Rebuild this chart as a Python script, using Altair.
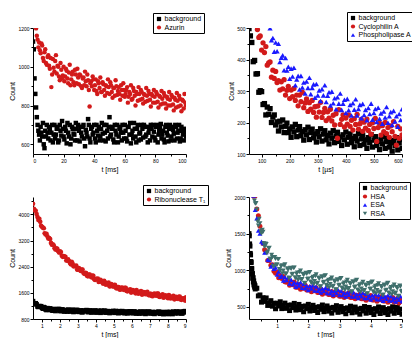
import altair as alt
import pandas as pd

# ---------------- Panel 1 (t [ms], 0-100) ----------------
p1_names = ["background", "Azurin"]
p1_bg_a = [1130, 940, 790, 700, 650, 690, 640, 600, 670, 700,
           630, 680, 660, 610, 700, 650, 690, 620, 670, 720,
           640, 690, 605, 660, 700, 630, 680, 650, 710, 620,
           670, 690, 640, 700, 590, 660, 730, 630, 680, 650,
           700, 610, 670, 690, 640, 710, 620, 660, 700, 630,
           740, 650, 690, 610, 670, 700, 640, 680, 620, 660,
           700, 630, 690, 650, 605, 670, 710, 640, 680, 620,
           660, 700, 635, 690, 650, 610, 680, 700, 640, 665,
           620, 700, 650, 690, 630, 670, 610, 700, 645, 680,
           620, 690, 655, 700, 630, 670, 615, 690, 650, 680,
           640]
p1_bg_b = [1090, 860, 740, 670, 620, 660, 710, 580, 640, 660,
           690, 620, 700, 650, 630, 680, 610, 700, 645, 680,
           625, 670, 710, 640, 600, 690, 655, 620, 680, 700,
           615, 660, 690, 630, 675, 640, 700, 610, 690, 660,
           630, 700, 645, 620, 680, 655, 700, 615, 670, 690,
           640, 680, 625, 700, 650, 610, 690, 660, 700, 630,
           670, 615, 690, 710, 650, 630, 680, 610, 700, 655,
           625, 680, 700, 640, 690, 660, 620, 680, 700, 635,
           690, 610, 670, 705, 650, 625, 690, 660, 615, 700,
           640, 675, 620, 690, 660, 700, 630, 670, 620, 660]
p1_az_a = [1280, 1235, 1198, 1140, 1125, 1070, 1110, 1030, 1090, 1010,
           1060, 990, 895, 1040, 975, 1060, 1005, 950, 1020, 940,
           1000, 950, 980, 915, 1010, 935, 975, 905, 960, 990,
           910, 955, 890, 945, 975, 900, 930, 795, 925, 950,
           880, 935, 860, 915, 945, 870, 910, 850, 900, 935,
           860, 905, 840, 890, 930, 855, 895, 830, 880, 915,
           845, 880, 815, 870, 905, 835, 875, 800, 860, 895,
           830, 870, 810, 855, 890, 825, 860, 795, 850, 880,
           815, 860, 790, 845, 875, 810, 850, 785, 835, 870,
           800, 845, 775, 830, 865, 795, 835, 770, 825, 860,
           800]
p1_az_b = [1260, 1215, 1160, 1100, 1085, 1120, 1045, 1075, 1020, 1050,
           1005, 1045, 960, 995, 1030, 965, 1000, 930, 985, 955,
           925, 990, 940, 970, 905, 960, 920, 985, 915, 945,
           960, 900, 940, 905, 925, 960, 880, 915, 900, 935,
           905, 875, 925, 890, 870, 920, 880, 905, 865, 895,
           920, 870, 890, 850, 900, 875, 860, 905, 850, 880,
           860, 895, 845, 860, 830, 890, 850, 870, 825, 860,
           880, 835, 860, 820, 850, 875, 830, 860, 815, 845,
           870, 820, 850, 805, 835, 865, 810, 845, 800, 830,
           855, 805, 840, 790, 825, 850, 800, 830, 785, 815]

# ---------------- Panel 2 (t [us], 55-600) ----------------
p2_names = ["background", "Cyclophilin A", "Phospholipase A"]
p2_bg = [498, 475, 454, 393, 397, 354, 355, 296, 301, 298,
         257, 260, 224, 249, 226, 244, 200, 217, 224, 192,
         202, 173, 204, 186, 208, 168, 188, 198, 168, 180,
         153, 186, 170, 194, 155, 176, 187, 158, 171, 144,
         177, 161, 185, 146, 168, 179, 151, 164, 138, 171,
         155, 180, 141, 163, 174, 145, 159, 132, 166, 150,
         174, 136, 157, 169, 140, 154, 127, 161, 145, 170,
         131, 153, 164, 136, 149, 123, 156, 141, 165, 127,
         148, 160, 131, 145, 118, 152, 136, 161, 122, 144,
         155, 127, 140, 114, 147, 132, 156, 118, 139, 151,
         122, 136, 109, 143, 127, 152, 113, 135, 146, 118]
p2_cyc = [495, 470, 475, 430, 453, 422, 441, 382, 389, 392,
          344, 366, 340, 362, 327, 333, 303, 329, 307, 336,
          287, 302, 315, 276, 303, 282, 308, 270, 287, 253,
          287, 266, 296, 247, 262, 275, 235, 263, 242, 270,
          232, 250, 217, 252, 233, 264, 216, 232, 245, 206,
          234, 214, 242, 205, 223, 192, 228, 150, 241, 194,
          210, 224, 186, 214, 195, 224, 188, 207, 176, 212,
          194, 226, 179, 196, 210, 172, 201, 182, 211, 175,
          194, 163, 199, 181, 213, 140, 184, 198, 160, 190,
          171, 200, 165, 184, 153, 189, 171, 203, 156, 128,
          188, 150, 180, 161]
p2_pla = [499, 461, 468, 425, 454, 426, 450, 392, 406, 413,
          366, 405, 365, 377, 339, 371, 346, 374, 318, 337,
          348, 305, 348, 311, 327, 292, 330, 310, 342, 290,
          310, 321, 279, 322, 286, 302, 268, 306, 286, 318,
          265, 285, 296, 254, 298, 261, 277, 242, 280, 260,
          292, 240, 260, 272, 230, 275, 239, 256, 222, 261,
          241, 274, 222, 243, 256, 214, 259, 224, 240, 207,
          246, 227, 260, 209, 230, 243, 202, 247, 212, 229,
          196, 235, 216, 249, 199, 220, 233, 192, 237, 203,
          220, 187, 227, 208, 242]

# ---------------- Panel 3 (t [ms], 0.5-9) ----------------
p3_names = ["background", "Ribonuclease T\u2081"]
p3_bg_a = [1345, 1265, 1245, 1170, 1185, 1145, 1162, 1095, 1131, 1083,
           1095, 1056, 1097, 1073, 1104, 1050, 1092, 1049, 1066, 1028,
           1070, 1048, 1081, 1029, 1072, 1030, 1048, 1012, 1056, 1036,
           1068, 1018, 1060, 1018, 1036, 1000, 1044, 1023, 1054, 1003,
           1047, 1000, 1023, 991, 1031, 1010, 1044, 993, 1037, 993,
           1015, 981, 1019, 999, 1035, 985, 1029, 987, 1007, 967,
           1015, 992, 1027, 978, 1021, 980, 999, 963, 1008, 987,
           1020, 968, 1012, 971, 991, 955, 1012, 996, 1025, 975,
           1020, 1008, 1013, 975, 1030, 1005]
p3_bg_b = [1275, 1280, 1185, 1195, 1190, 1116, 1143, 1075, 1112, 1124,
           1063, 1104, 1045, 1086, 1102, 1043, 1086, 1028, 1069, 1086,
           1029, 1072, 1015, 1058, 1076, 1019, 1063, 1006, 1050, 1068,
           1012, 1055, 998, 1042, 1061, 1004, 1048, 991, 1035, 1053,
           997, 1040, 984, 1027, 1046, 990, 1034, 978, 1021, 1040,
           985, 1028, 972, 1016, 1035, 980, 1024, 967, 1006, 1026,
           970, 1013, 957, 1001, 1025, 970, 1014, 957, 999, 1019,
           962, 1005, 949, 993, 1015, 961, 1007, 953, 1003, 1024,
           973, 1021, 970, 1017, 1039]
p3_rib_a = [4320, 4125, 4010, 3825, 3770, 3620, 3575, 3385, 3330, 3270,
            3125, 3080, 2960, 2960, 2870, 2870, 2733, 2721, 2704, 2587,
            2570, 2471, 2492, 2418, 2434, 2305, 2311, 2312, 2213, 2214,
            2125, 2160, 2100, 2130, 2015, 2025, 2036, 1947, 1958, 1879,
            1920, 1870, 1910, 1805, 1825, 1840, 1759, 1778, 1707, 1756,
            1710, 1756, 1657, 1683, 1704, 1625, 1650, 1585, 1640, 1600,
            1650, 1557, 1589, 1616, 1543, 1570, 1507, 1564, 1526, 1578,
            1485, 1517, 1552, 1471, 1498, 1435, 1492, 1458, 1506, 1413,
            1445, 1474, 1398, 1427, 1402, 1460]
p3_rib_b = [4165, 4110, 3915, 3865, 3650, 3593, 3422, 3407, 3258, 3245,
            3070, 3053, 2922, 2945, 2830, 2849, 2702, 2705, 2588, 2621,
            2518, 2549, 2410, 2421, 2312, 2358, 2269, 2310, 2181, 2202,
            2105, 2160, 2075, 2120, 1995, 2023, 1934, 1995, 1916, 1967,
            1850, 1885, 1800, 1865, 1790, 1847, 1736, 1775, 1694, 1763,
            1693, 1754, 1645, 1686, 1607, 1680, 1615, 1680, 1575, 1620,
            1546, 1623, 1560, 1627, 1524, 1571, 1498, 1575, 1512, 1579,
            1476, 1523, 1450, 1527, 1464, 1531, 1428, 1475, 1402, 1479,
            1417, 1486, 1385, 1434, 1363]

# ---------------- Panel 4 (t [ms], 0.1-5) ----------------
p4_names = ["background", "HSA", "ESA", "RSA"]
p4_bg_early = [1500, 1470, 1360, 1330, 1230, 1210, 1120, 1105, 1025, 1020,
               950, 955, 890, 900, 840, 855, 800, 815, 770, 790, 745]
p4_bg = [755, 650, 663, 565, 625, 575, 622, 520, 557, 585,
         510, 550, 475, 550, 512, 570, 477, 520, 552, 480,
         522, 450, 527, 490, 548, 457, 500, 534, 462, 506,
         434, 513, 476, 535, 444, 488, 522, 451, 495, 424,
         503, 467, 526, 435, 479, 513, 442, 486, 415, 494,
         458, 517, 426, 470, 504, 434, 478, 407, 487, 451,
         510, 420, 464, 498, 428, 472, 401, 481, 445, 505,
         414, 458, 493, 422, 467, 396, 476, 441, 500, 410,
         455, 490, 420, 465, 396, 476, 442, 502, 413, 458,
         494, 424, 469, 400]
p4_hsa = [2010, 2015, 1835, 1745, 1600, 1535, 1365, 1280, 1255, 1135,
          1135, 1070, 1077, 985, 958, 975, 897, 930, 887, 915,
          842, 835, 867, 795, 836, 802, 839, 770, 769, 807,
          741, 785, 755, 795, 730, 730, 770, 706, 751, 722,
          762, 698, 698, 739, 674, 720, 691, 733, 669, 671,
          712, 649, 695, 667, 708, 645, 647, 690, 627, 675,
          647, 690, 627, 630, 672, 610, 657, 630, 672, 610,
          612, 655, 592, 640, 612, 655, 593, 596, 639, 577,
          625, 598, 641, 579, 582, 625, 563, 612, 585, 629,
          567, 571, 614, 553, 601, 575]
p4_esa = [2020, 1825, 1710, 1540, 1500, 1390, 1370, 1240, 1248, 1145,
          1138, 1050, 1078, 1020, 1038, 940, 982, 910, 927, 860,
          907, 865, 902, 820, 871, 807, 834, 775, 829, 792,
          836, 760, 815, 755, 785, 730, 785, 751, 796, 722,
          777, 718, 748, 694, 749, 715, 761, 688, 744, 686,
          717, 664, 720, 687, 733, 660, 717, 660, 692, 640,
          697, 665, 712, 640, 697, 640, 672, 620, 677, 645,
          692, 620, 677, 620, 652, 600, 658, 626, 674, 602,
          660, 603, 636, 584, 642, 610, 658, 587, 645, 589,
          622, 571, 629, 598, 646, 575]
p4_rsa_a = [2130, 1910, 1830, 1610, 1640, 1500, 1525, 1320, 1355, 1255,
            1305, 1150, 1178, 1050, 1156, 1075, 1153, 992, 1066, 995,
            1079, 958, 1006, 895, 1018, 950, 1037, 885, 969, 907,
            996, 880, 934, 827, 951, 885, 975, 826, 911, 852,
            942, 828, 883, 779, 904, 840, 931, 782, 868, 809,
            900, 786, 842, 738, 864, 800, 892, 745, 832, 775,
            867, 755, 812, 710, 837, 775, 867, 720, 807, 750,
            842, 730, 787, 685, 812, 750, 843, 696, 785, 728,
            821, 709, 767, 666, 794, 732, 826, 679, 768, 711,
            805, 694, 752, 651, 779, 718]
p4_rsa_b = [1950, 1915, 1665, 1700, 1530, 1550, 1365, 1362, 1232, 1302,
            1157, 1209, 1059, 1178, 1075, 1151, 1015, 1054, 958, 1059,
            948, 1027, 895, 1031, 944, 1031, 903, 952, 865, 974,
            868, 952, 825, 964, 878, 967, 843, 893, 809, 919,
            815, 900, 776, 916, 832, 923, 799, 850, 766, 877,
            773, 859, 735, 876, 792, 883, 761, 813, 731, 843,
            741, 828, 706, 848, 766, 858, 736, 788, 706, 818,
            716, 803, 681, 823, 741, 834, 712, 765, 684, 797,
            695, 783, 661, 805, 723, 816, 695, 748, 667, 780,
            679, 768, 646, 790, 708]


def grid(start, step, n):
    return [round(start + step * i, 4) for i in range(n)]


def frame(parts):
    rows = []
    for name, ts, vs in parts:
        rows += [{"s": name, "t": t, "v": v} for t, v in zip(ts, vs)]
    return pd.DataFrame(rows)


df1 = frame([
    ("background", grid(0, 1, len(p1_bg_a)), p1_bg_a),
    ("background", grid(0.5, 1, len(p1_bg_b)), p1_bg_b),
    ("Azurin", grid(0, 1, len(p1_az_a)), p1_az_a),
    ("Azurin", grid(0.5, 1, len(p1_az_b)), p1_az_b),
])
df2 = frame([
    ("background", grid(55, 5, len(p2_bg)), p2_bg),
    ("Cyclophilin A", grid(85, 5, len(p2_cyc)), p2_cyc),
    ("Phospholipase A", grid(130, 5, len(p2_pla)), p2_pla),
])
df3 = frame([
    ("background", grid(0.5, 0.1, len(p3_bg_a)), p3_bg_a),
    ("background", grid(0.55, 0.1, len(p3_bg_b)), p3_bg_b),
    (p3_names[1], grid(0.5, 0.1, len(p3_rib_a)), p3_rib_a),
    (p3_names[1], grid(0.55, 0.1, len(p3_rib_b)), p3_rib_b),
])
df4 = frame([
    ("background", grid(0.10, 0.01, len(p4_bg_early)), p4_bg_early),
    ("background", grid(0.35, 0.05, len(p4_bg)), p4_bg),
    ("HSA", grid(0.25, 0.05, len(p4_hsa)), p4_hsa),
    ("ESA", grid(0.25, 0.05, len(p4_esa)), p4_esa),
    ("RSA", grid(0.25, 0.05, len(p4_rsa_a)), p4_rsa_a),
    ("RSA", grid(0.275, 0.05, len(p4_rsa_b)), p4_rsa_b),
])

BLACK, RED, BLUE, TEAL = "#000000", "#d21a1a", "#1a1aff", "#3f6f6c"
FONT = "Liberation Sans"


def panel(df, names, colors, shapes, size, xdom, ydom, xticks, yticks,
          xminor, yminor, xtitle, lx, ly, h):
    leg = alt.Legend(title=None, orient="none", legendX=lx, legendY=ly,
                     strokeColor="black", fillColor="white", padding=2.5,
                     labelFontSize=7, labelFont=FONT, labelColor="black",
                     symbolSize=18, rowPadding=0.5, labelOffset=2,
                     symbolStrokeWidth=0, labelLimit=300)
    xs = alt.Scale(domain=xdom, nice=False, zero=False)
    ys = alt.Scale(domain=ydom, nice=False, zero=False)
    pts = alt.Chart(df).mark_point(filled=True, size=size, opacity=1,
                                   strokeWidth=0, clip=True).encode(
        x=alt.X("t:Q", scale=xs,
                axis=alt.Axis(values=xticks, title=xtitle, format="d", orient="bottom")),
        y=alt.Y("v:Q", scale=ys,
                axis=alt.Axis(values=yticks, title="Count", format="d", orient="left")),
        color=alt.Color("s:N", scale=alt.Scale(domain=names, range=colors), legend=leg),
        shape=alt.Shape("s:N", scale=alt.Scale(domain=names, range=shapes), legend=leg),
    )
    minor = alt.Chart(df).mark_point(opacity=0, size=1).encode(
        x=alt.X("t:Q", scale=xs,
                axis=alt.Axis(values=xminor, title=None, labels=False, domain=False,
                              tickSize=2, orient="bottom")),
        y=alt.Y("v:Q", scale=ys,
                axis=alt.Axis(values=yminor, title=None, labels=False, domain=False,
                              tickSize=2, orient="left")),
    )
    return alt.layer(pts, minor).resolve_axis(x="independent", y="independent").properties(
        width=153, height=h)


c1 = panel(df1, p1_names, [BLACK, RED], ["square", "circle"], 20,
           [0, 100], [550, 1200], [0, 20, 40, 60, 80, 100], [600, 800, 1000, 1200],
           [10, 30, 50, 70, 90], [700, 900, 1100],
           "t [ms]", 120, -15, 126)
c2 = panel(df2, p2_names, [BLACK, RED, BLUE], ["square", "circle", "triangle-up"], 28,
           [55, 600], [100, 500], [100, 200, 300, 400, 500, 600], [100, 200, 300, 400, 500],
           [150, 250, 350, 450, 550], [150, 250, 350, 450],
           "t [\u00b5s]", 98, -16, 126)
c3 = panel(df3, p3_names, [BLACK, RED], ["square", "circle"], 22,
           [0.5, 9], [800, 4530], [1, 2, 3, 4, 5, 6, 7, 8, 9], [800, 1600, 2400, 3200, 4000],
           [1.5, 2.5, 3.5, 4.5, 5.5, 6.5, 7.5, 8.5], [1200, 2000, 2800, 3600, 4400],
           "t [ms]", 110, -12, 122)
c4 = panel(df4, p4_names, [BLACK, RED, BLUE, TEAL],
           ["square", "circle", "triangle-up", "triangle-down"], 25,
           [0.1, 5], [335, 2000], [1, 2, 3, 4, 5], [500, 1000, 1500, 2000],
           [0.5, 1.5, 2.5, 3.5, 4.5], [750, 1250, 1750],
           "t [ms]", 110, -15, 122)

chart = alt.concat(
    c1, c2, c3, c4, columns=2,
    spacing={"row": 43, "column": 63}, bounds="flush",
    autosize=alt.AutoSizeParams(type="none"),
    padding={"left": 25, "top": 20, "right": 379, "bottom": 310},
).resolve_scale(color="independent", shape="independent").configure_view(
    stroke=None
).configure_axis(
    domainColor="black", tickColor="black", labelColor="black", titleColor="black",
    labelFontSize=5, titleFontSize=7, tickSize=3, labelPadding=1, titlePadding=2,
    grid=False, labelFont=FONT, titleFont=FONT, titleFontWeight="normal",
    domainWidth=1, tickWidth=1,
)

chart.save("out.html", embed_options={"renderer": "svg", "actions": False})
